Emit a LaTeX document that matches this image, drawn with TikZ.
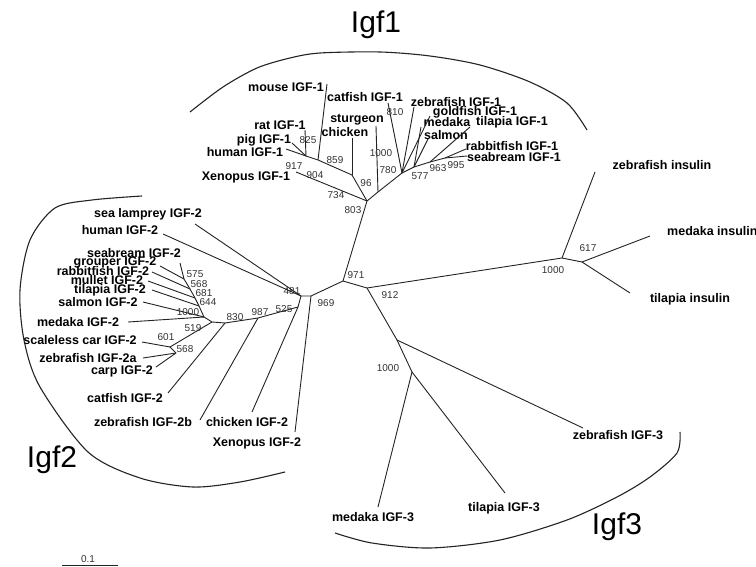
\documentclass[tikz,border=0pt]{standalone}
\usepackage{fontspec}
\setmainfont{Liberation Sans}
\usepackage{tikz}
\usetikzlibrary{positioning}
\definecolor{branchgray}{RGB}{35,35,35}
\definecolor{bootgray}{RGB}{50,50,50}

\begin{document}
\begin{tikzpicture}[
				x=1pt, y=-1pt,
				leaf/.style={font=\fontsize{12.5}{13}\selectfont\bfseries, inner sep=0pt},
				boot/.style={font=\fontsize{10}{11}\selectfont, text=bootgray, inner sep=0pt},
				clade/.style={font=\fontsize{30}{32}\selectfont, inner sep=0pt},
				branch/.style={draw=branchgray, line width=0.9pt},
				bracket/.style={draw=branchgray, line width=1.1pt}
				]
				\useasboundingbox (0,0) rectangle (756,567);
				
				% Clade labels
				\node[clade] (igf1) at (376,25) {Igf1};
				\node[clade] (igf2) at (52,460) {Igf2};
				\node[clade] (igf3) at (617,527) {Igf3};
				
				% Inner nodes
				\coordinate (n971) at (343,281);
				\coordinate (n803) at (367,201);
				\coordinate (nL) at (352,175);
				\coordinate (nH) at (318,160);
				\coordinate (n825) at (306,156);
				\coordinate (nS) at (378,192);
				\coordinate (nR) at (402,173);
				\coordinate (n577) at (414,167);
				\coordinate (n963) at (430,162);
				\coordinate (n995) at (445,158);
				\coordinate (n969) at (311,296);
				\coordinate (n481) at (301,296);
				\coordinate (n525) at (298,307);
				\coordinate (n987) at (258,318);
				\coordinate (n830) at (225,323);
				\coordinate (n519) at (212,322);
				\coordinate (nF) at (204,317);
				\coordinate (n644) at (199,306);
				\coordinate (n681) at (195,298);
				\coordinate (n568b) at (190,289);
				\coordinate (n575) at (184,279);
				\coordinate (n601) at (170,347);
				\coordinate (n568c) at (176,353);
				\coordinate (n912) at (367,288);
				\coordinate (nI) at (562,258);
				\coordinate (n617) at (582,262);
				\coordinate (nB) at (397,340);
				\coordinate (nC) at (412,372);
				
				% Leaves, Igf1
				\node[leaf] (mouse1) at (286,87) {mouse IGF-1};
				\node[leaf] (catfish1) at (365,97) {catfish IGF-1};
				\node[leaf] (rat1) at (280,125) {rat IGF-1};
				\node[leaf] (sturgeon) at (357,120) {sturgeon};
				\node[leaf] (chicken1) at (345,132) {chicken};
				\node[leaf] (pig1) at (264,140) {pig IGF-1};
				\node[leaf] (human1) at (245,152) {human IGF-1};
				\node[leaf] (xenopus1) at (246,177) {Xenopus IGF-1};
				\node[leaf] (zebrafish1) at (456,102) {zebrafish IGF-1};
				\node[leaf] (goldfish1) at (475,112) {goldfish IGF-1};
				\node[leaf] (medaka1) at (447,122) {medaka};
				\node[leaf] (tilapia1) at (512,122) {tilapia IGF-1};
				\node[leaf] (salmon1) at (446,135) {salmon};
				\node[leaf] (rabbitfish1) at (512,146) {rabbitfish IGF-1};
				\node[leaf] (seabream1) at (514,157) {seabream IGF-1};
				
				% Leaves, Igf2
				\node[leaf] (lamprey2) at (148,214) {sea lamprey IGF-2};
				\node[leaf] (human2) at (120,230) {human IGF-2};
				\node[leaf] (seabream2) at (134,253) {seabream IGF-2};
				\node[leaf] (grouper2) at (115,262) {grouper IGF-2};
				\node[leaf] (rabbitfish2) at (103,271) {rabbitfish IGF-2};
				\node[leaf] (mullet2) at (107,280) {mullet IGF-2};
				\node[leaf] (tilapia2) at (110,290) {tilapia IGF-2};
				\node[leaf] (salmon2) at (98,302) {salmon IGF-2};
				\node[leaf] (medaka2) at (78,322) {medaka IGF-2};
				\node[leaf] (scaleless2) at (80,340) {scaleless car IGF-2};
				\node[leaf] (zebrafish2a) at (88,358) {zebrafish IGF-2a};
				\node[leaf] (carp2) at (122,371) {carp IGF-2};
				\node[leaf] (catfish2) at (125,398) {catfish IGF-2};
				\node[leaf] (zebrafish2b) at (143,422) {zebrafish IGF-2b};
				\node[leaf] (chicken2) at (247,422) {chicken IGF-2};
				\node[leaf] (xenopus2) at (257,443) {Xenopus IGF-2};
				
				% Leaves, insulin and Igf3
				\node[leaf] (zebrafishins) at (662,165) {zebrafish insulin};
				\node[leaf, anchor=west] (medakains) at (667,231) {medaka insulin};
				\node[leaf] (tilapiains) at (690,299) {tilapia insulin};
				\node[leaf] (zebrafish3) at (618,435) {zebrafish IGF-3};
				\node[leaf] (tilapia3) at (504,508) {tilapia IGF-3};
				\node[leaf] (medaka3) at (373,517) {medaka IGF-3};
				
				% Branch tips
				\coordinate (tMouse1) at (327,84);
				\coordinate (tCatfish1) at (388,103);
				\coordinate (tRat1) at (305,130);
				\coordinate (tSturgeon) at (376,126);
				\coordinate (tChicken1) at (352,138);
				\coordinate (tPig1) at (292,143);
				\coordinate (tHuman1) at (286,149);
				\coordinate (tXenopus1) at (296,172);
				\coordinate (tZebrafish1) at (414,107);
				\coordinate (tGoldfish1) at (430,116);
				\coordinate (tMedaka1) at (421,127);
				\coordinate (tTilapia1) at (470,127);
				\coordinate (tSalmon1) at (428,139);
				\coordinate (tRabbitfish1) at (466,149);
				\coordinate (tSeabream1) at (467,156);
				\coordinate (tLamprey2) at (195,224);
				\coordinate (tHuman2) at (163,234);
				\coordinate (tSeabream2) at (180,263);
				\coordinate (tGrouper2) at (160,266);
				\coordinate (tRabbitfish2) at (152,272);
				\coordinate (tMullet2) at (148,281);
				\coordinate (tTilapia2) at (152,290);
				\coordinate (tSalmon2) at (143,302);
				\coordinate (tMedaka2) at (128,322);
				\coordinate (tScaleless2) at (142,342);
				\coordinate (tZebrafish2a) at (143,358);
				\coordinate (tCarp2) at (156,367);
				\coordinate (tCatfish2) at (168,393);
				\coordinate (tZebrafish2b) at (200,420);
				\coordinate (tChicken2) at (252,412);
				\coordinate (tXenopus2) at (295,432);
				\coordinate (tZebrafishIns) at (595,172);
				\coordinate (tMedakaIns) at (650,236);
				\coordinate (tTilapiaIns) at (630,293);
				\coordinate (tZebrafish3) at (583,428);
				\coordinate (tTilapia3) at (505,493);
				\coordinate (tMedaka3) at (378,507);
				
				% Bootstrap values
				\node[boot] (b825) at (308,140) {825};
				\node[boot] (b859) at (335,160) {859};
				\node[boot] (b917) at (294,166) {917};
				\node[boot] (b904) at (315,175) {904};
				\node[boot] (b734) at (336,195) {734};
				\node[boot] (b96) at (366,183) {96};
				\node[boot] (b803) at (353,210) {803};
				\node[boot] (b1000a) at (381,153) {1000};
				\node[boot] (b780) at (388,170) {780};
				\node[boot] (b810) at (395,112) {810};
				\node[boot] (b577) at (420,176) {577};
				\node[boot] (b963) at (438,168) {963};
				\node[boot] (b995) at (456,165) {995};
				\node[boot] (b971) at (356,275) {971};
				\node[boot] (b969) at (326,303) {969};
				\node[boot] (b481) at (292,291) {481};
				\node[boot] (b525) at (284,309) {525};
				\node[boot] (b987) at (260,312) {987};
				\node[boot] (b830) at (235,317) {830};
				\node[boot] (b1000b) at (188,312) {1000};
				\node[boot] (b519) at (193,328) {519};
				\node[boot] (b575) at (195,274) {575};
				\node[boot] (b568a) at (199,284) {568};
				\node[boot] (b681) at (204,293) {681};
				\node[boot] (b644) at (208,302) {644};
				\node[boot] (b601) at (166,337) {601};
				\node[boot] (b568b) at (185,349) {568};
				\node[boot] (b912) at (390,295) {912};
				\node[boot] (b1000c) at (553,270) {1000};
				\node[boot] (b617) at (588,248) {617};
				\node[boot] (b1000d) at (388,368) {1000};
				\node[boot] (scale) at (88,559) {0.1};
				
				% Branches, backbone
				\draw[branch] (n971) -- (n803);
				\draw[branch] (n971) -- (n969);
				\draw[branch] (n971) -- (n912);
				
				% Branches, Igf1
				\draw[branch] (n803) -- (nL);
				\draw[branch] (n803) -- (tXenopus1);
				\draw[branch] (n803) -- (nS) -- (nR);
				\draw[branch] (nS) -- (tSturgeon);
				\draw[branch] (nL) -- (tChicken1);
				\draw[branch] (nL) -- (nH) -- (n825) -- (tHuman1);
				\draw[branch] (nH) -- (tMouse1);
				\draw[branch] (n825) -- (tRat1);
				\draw[branch] (n825) -- (tPig1);
				\draw[branch] (nR) -- (tCatfish1);
				\draw[branch] (nR) -- (tZebrafish1);
				\draw[branch] (nR) -- (tGoldfish1);
				\draw[branch] (nR) -- (n577) -- (n963) -- (n995);
				\draw[branch] (n577) -- (tMedaka1);
				\draw[branch] (n577) -- (tSalmon1);
				\draw[branch] (n963) -- (tTilapia1);
				\draw[branch] (n995) -- (tRabbitfish1);
				\draw[branch] (n995) -- (tSeabream1);
				
				% Branches, Igf2
				\draw[branch] (n969) -- (tXenopus2);
				\draw[branch] (n969) -- (n481) -- (n525);
				\draw[branch] (n481) -- (tLamprey2);
				\draw[branch] (n481) -- (tHuman2);
				\draw[branch] (n525) -- (tChicken2);
				\draw[branch] (n525) -- (n987) -- (n830) -- (n519) -- (nF);
				\draw[branch] (n987) -- (tZebrafish2b);
				\draw[branch] (n830) -- (tCatfish2);
				\draw[branch] (nF) -- (tMedaka2);
				\draw[branch] (nF) -- (tSalmon2);
				\draw[branch] (nF) -- (n644) -- (n681) -- (n568b) -- (n575);
				\draw[branch] (n644) -- (tTilapia2);
				\draw[branch] (n681) -- (tMullet2);
				\draw[branch] (n568b) -- (tRabbitfish2);
				\draw[branch] (n575) -- (tGrouper2);
				\draw[branch] (n575) -- (tSeabream2);
				\draw[branch] (n519) -- (n601) -- (n568c);
				\draw[branch] (n601) -- (tScaleless2);
				\draw[branch] (n568c) -- (tZebrafish2a);
				\draw[branch] (n568c) -- (tCarp2);
				
				% Branches, insulin and Igf3
				\draw[branch] (n912) -- (nI) -- (n617);
				\draw[branch] (nI) -- (tZebrafishIns);
				\draw[branch] (n617) -- (tMedakaIns);
				\draw[branch] (n617) -- (tTilapiaIns);
				\draw[branch] (n912) -- (nB) -- (nC);
				\draw[branch] (nB) -- (tZebrafish3);
				\draw[branch] (nC) -- (tMedaka3);
				\draw[branch] (nC) -- (tTilapia3);
				
				% Scale bar
				\coordinate (sL) at (62,565);
				\coordinate (sR) at (118,565);
				\draw[branch, line width=0.6pt] (sL) -- (sR);
				
				% Clade brackets
				\draw[bracket] plot[smooth] coordinates {(190,112) (223,87) (257,68) (290,58) (320,53) (380,52) (430,56) (480,65) (530,82) (567,103) (587,130)};
				\draw[bracket] plot[smooth] coordinates {(142,196) (92,200) (55,208) (30,240) (20,290) (24,340) (40,387) (88,452) (140,478) (193,487) (240,482) (285,472)};
				\draw[bracket] plot[smooth] coordinates {(680,432) (677,453) (650,477) (617,497) (567,520) (500,540) (430,548) (372,543) (335,533)};
				
			\end{tikzpicture}
\end{document}
